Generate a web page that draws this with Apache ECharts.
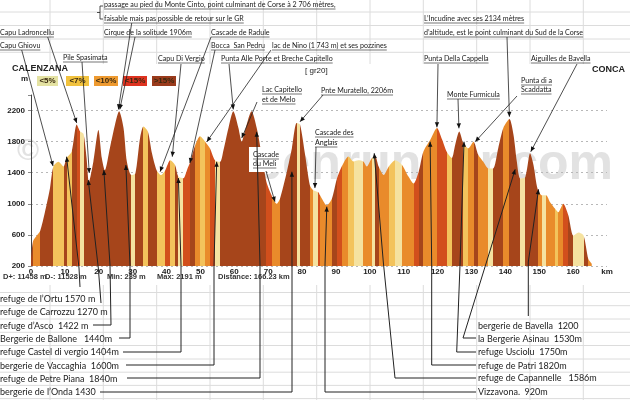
<!DOCTYPE html>
<html><head><meta charset="utf-8">
<script src="https://cdn.jsdelivr.net/npm/echarts@6/dist/echarts.min.js"></script>
<style>html,body{margin:0;padding:0;background:#fff}#c{width:630px;height:400px}</style>
</head><body><div id="c"></div>
<script>
// ---------- DATA ----------
const kmValues = [0,0.6,1.5,2.7,4.1,5.6,6.6,8.1,9.6,10.5,12.0,13.5,14.5,15.5,16.4,17.1,18.4,19.9,20.9,21.8,23.3,24.8,26.0,27.3,28.3,29.6,30.8,32.2,33.2,34.5,35.7,37.1,38.4,39.6,41.1,42.5,43.5,45.0,46.0,47.0,48.5,49.9,51.4,52.8,54.3,55.8,56.8,58.3,59.7,61.2,62.2,63.1,65.1,66.6,68.1,69.5,71.0,72.5,73.5,75.5,77.0,78.4,79.4,80.9,82.3,83.3,84.8,85.3,87.3,88.8,90.3,91.7,93.7,95.2,96.6,98.1,99.1,100.6,101.6,102.6,104.1,105.6,107.5,109.5,111.4,112.9,114.4,115.8,117.8,119.8,121.3,122.7,124.2,125.2,126.4,127.6,129.1,130.6,132.0,133.5,135.0,136.4,137.9,139.4,141.2,142.4,143.4,144.4,145.9,147.3,148.3,149.5,150.8,152.0,153.2,154.7,155.6,157.1,158.6,160.1,161.6,163.1,164.5,165.5];
const elevValues = [300,520,580,650,890,1200,1480,1540,1480,1590,1670,2020,1930,1900,1590,1280,1540,1950,1590,1430,1720,2020,2190,1980,1540,1370,1390,1850,1995,1930,1650,1430,1370,1430,1560,1500,1350,1330,1430,1540,1760,1870,1800,1715,1560,1540,1690,1980,2190,1980,1800,1930,2190,1980,1630,1280,1110,1000,1070,1410,1715,2040,2020,1630,1240,1175,1150,1110,980,1065,1325,1480,1610,1545,1560,1545,1480,1590,1610,1480,1370,1480,1560,1500,1350,1260,1410,1670,1820,1975,1830,1670,1590,1760,1930,1780,1715,1800,1630,1540,1455,1455,1715,1975,2090,1890,1540,1325,1345,1650,1500,1195,1110,1110,1020,935,890,1000,850,590,630,590,290,230];
const slopeLabels = ['<5%','<7%','<10%','<15%','>15%'];
const slopeLimits = [5,7,10,15];
const statsTexts = ['D+: 11458 m','D-: 11528 m','Min: 239 m','Max: 2191 m','Distance: 166.23 km'];
const startName = 'CALENZANA', endName = 'CONCA', routeName = '[ gr20]';
const watermark = ['\u00a9', 'openrunner.com'];

const noteLines = [
 ['passage au pied du Monte Cinto, point culminant de Corse \u00e0 2 706 m\u00e8tres,', 'faisable mais pas possible de retour sur le GR'],
 ['Capu Ladroncellu'],
 ['Capu Ghiovu'],
 ['Pile Spasimata'],
 ['Cirque de la solitude 1906m'],
 ['Cascade de Radule'],
 ['Bocca  San Pedru'],
 ['lac de Nino (1 743 m) et ses pozzines'],
 ['Capu Di Vergio'],
 ['Punta Alle Porte et Breche Capitello'],
 ['Lac Capitello','et de Melo'],
 ['Pnte Muratello, 2206m'],
 ['Cascade des','Anglais'],
 ['Cascade','du Meli'],
 ['L\u2019Incudine avec ses 2134 m\u00e8tres','d\u2019altitude, est le point culminant du Sud de la Corse'],
 ['Punta Della Cappella'],
 ['Monte Furmicula'],
 ['Punta di a','Scaddatta'],
 ['Aiguilles de Bavella']
];
const noteKm   = [25.8,13.5,6.5,17.2,26.2,38.1,46.9,51.9,41.7,59.7,62.2,79.4,83.8,72.0,141.2,119.8,126.3,131.1,147.5];
const noteElev = [2215,2039,1486,1396,2215,1413,1525,1799,1606,2215,1846,2056,1203,1027,2120,1984,1971,1799,1670];

const stopNames = ['refuge de l\u2019Ortu 1570 m','refuge de Carrozzu 1270 m','refuge d\u2019Asco  1422 m','Bergerie de Ballone   1440m','refuge Castel di vergio 1404m','bergerie de Vaccaghia  1600m','refuge de Petre Piana  1840m','bergerie de l\u2019Onda 1430','bergerie de Bavella  1200','la Bergerie Asinau  1530m','refuge Usciolu  1750m','refuge de Patri 1820m','refuge de Capannelle   1586m','Vizzavona.  920m'];
const stopKm   = [10.5,16.9,21.5,28.0,43.5,54.8,66.6,77.0,149.8,142.9,127.8,117.8,101.3,87.3];
const stopElev = [1606,1306,1435,1499,1332,1541,1927,1413,1186,1444,1799,1799,1650,963];

// ---------- STYLE / LAYOUT ----------
const classColors  = ['#f5e2a0','#f3c35c','#e98b2b','#d24f1c','#a6451b'];
const legendColors = ['#e4e2a2','#f1c23e','#ee9a30','#de3320','#9a3b1c'];
const slopeSampling = 1.25; // coarse sampling underestimates local gradients
const legendX = [37,66,94,123,152], legendW = [21,23,24,24,24];
const statsX = [3,45,107,157,218];
const noteLayout = [
 [104,5,14,131.7,23],[0,33,0,47.7,37],[0,46,0,21.7,50],[63,58,0,82,62],[104,33,0,135,37],
 [211,33,0,211,37],[211,46,0,215,50],[272,46,0,271,50],[158,59,0,181,64],[221,59,0,229,64],
 [262,90,10,257,102],[321,91,0,323,95],[315,133,10,316,147],[253,155,9,266,171],
 [424,19,14,507,37],[424,59,0,438,64],[447,95,0,458,99],[521,81,9,517,96],[531,59,0,577,64]
];
const stopLayout = [
 [0,299,[[79,268],[80,287]]],
 [0,312,[[98.3,268],[101,303]]],
 [0,326,[[110,265],[111,325],[93,325]]],
 [0,339,[[130,265],[130,338],[119,338]]],
 [0,352,[[181,265],[181,352],[123,352]]],
 [0,366,[[214,265],[214,365],[126,365]]],
 [0,379,[[260,265],[260,378],[127,378]]],
 [0,392,[[292,265],[292,392],[100,392]]],
 [478,326,[[528.3,262],[528.3,316]]],
 [478,339.5,[[463,338],[476,338]]],
 [478,352,[[460,265],[456.7,352],[476,352]]],
 [478,366,[[431.7,265],[431.7,365],[476,365]]],
 [478,378.5,[[383.3,262],[395,378],[476,378]]],
 [478,392,[[325,265],[325,392],[476,392]]]
];
const rowLinesTop = [12,25.5,39,52.3];
const rowLinesBottom = [292.5,305.7,319,332.3,345.5,359,372.2,385.4,398.6];
const colLines = [50,103.3,156.7,210,263.3,316.7,370,423.3,476.7,530,583.3];

// ---------- BUILD ----------
const chart = echarts.init(document.getElementById('c'));
const data = kmValues.map((k,i)=>[k, elevValues[i]]);
function slopeClass(i){
  const g = slopeSampling*Math.abs(elevValues[i+1]-elevValues[i])/((kmValues[i+1]-kmValues[i])*1000)*100;
  let c=0; while(c<slopeLimits.length && g>=slopeLimits[c]) c++; return c;
}
const pieces = [];
for (let i=0;i<kmValues.length-1;i++){
  const p = {gte:kmValues[i], color:classColors[slopeClass(i)]};
  if (i<kmValues.length-2) p.lt = kmValues[i+1]; else p.lte = kmValues[i+1];
  pieces.push(p);
}
const gridColor = '#b8b8b8';
chart.setOption({
  animation:false,
  grid:{left:31,right:23,top:95,bottom:134},
  xAxis:{type:'value',min:0,max:170,interval:10,
    axisLine:{show:false},axisTick:{show:false},splitLine:{show:false},
    axisLabel:{margin:2,fontSize:8,fontWeight:'bold',color:'#222',fontFamily:'Liberation Sans',
      formatter:v=>v===170?'km':String(v)}},
  yAxis:{type:'value',min:200,max:2400,interval:400,
    axisLine:{show:true,lineStyle:{color:'#444',width:1}},
    axisTick:{show:true,length:3,lineStyle:{color:'#888'}},
    axisLabel:{margin:6,fontSize:8,fontWeight:'bold',color:'#222',fontFamily:'Liberation Sans',
      formatter:v=>v===2400?'':String(v)},
    splitLine:{show:true,lineStyle:{type:[2,3],width:1,
      color:[gridColor,gridColor,gridColor,gridColor,gridColor,gridColor,'rgba(0,0,0,0)']}}},
  visualMap:{show:false,type:'piecewise',dimension:0,seriesIndex:0,pieces:pieces},
  series:[{type:'line',data:data,smooth:0.25,symbol:'none',z:3,
    lineStyle:{width:0,opacity:0},areaStyle:{opacity:1}}]
});

const mctx = document.createElement('canvas').getContext('2d');
function tw(text, font){ mctx.font = font; return mctx.measureText(text).width; }
const px = (k,e)=>chart.convertToPixel({xAxisIndex:0,yAxisIndex:0},[k,e]);

const g = [];
rowLinesTop.concat(rowLinesBottom).forEach(y=>g.push({type:'line',z:-20,shape:{x1:0,y1:y,x2:630,y2:y},style:{stroke:'#dcdcdc',lineWidth:1}}));
colLines.forEach(x=>g.push({type:'line',z:-20,shape:{x1:x,y1:0,x2:x,y2:400},style:{stroke:'#dcdcdc',lineWidth:1}}));
g.push({type:'rect',z:-15,shape:{x:0,y:64,width:630,height:221},style:{fill:'#fff'}});
g.push({type:'text',z:-10,x:17,y:152,style:{text:watermark[0],font:'bold 30px Liberation Sans',fill:'#e2e2e2',verticalAlign:'middle'}});
g.push({type:'text',z:-10,x:613,y:165,style:{text:watermark[1],font:'bold 50px Liberation Sans',fill:'#e2e2e2',align:'right',verticalAlign:'middle'}});

g.push({type:'text',z:50,x:12,y:69,style:{text:startName,font:'bold 9px Liberation Sans',fill:'#222',verticalAlign:'middle'}});
g.push({type:'text',z:50,x:592,y:70,style:{text:endName,font:'bold 9px Liberation Sans',fill:'#222',verticalAlign:'middle'}});
g.push({type:'text',z:50,x:305,y:71,style:{text:routeName,font:'8px Liberation Sans',fill:'#222',verticalAlign:'middle'}});
g.push({type:'text',z:50,x:21,y:79,style:{text:'m',font:'bold 8px Liberation Sans',fill:'#222',verticalAlign:'middle'}});
slopeLabels.forEach((t,i)=>{
  g.push({type:'rect',z:50,shape:{x:legendX[i],y:76,width:legendW[i],height:10},style:{fill:legendColors[i]}});
  g.push({type:'text',z:51,x:legendX[i]+legendW[i]/2,y:81,style:{text:t,font:'bold 8px Liberation Sans',fill:'#3a2a10',align:'center',verticalAlign:'middle'}});
});
statsTexts.forEach((t,i)=>g.push({type:'text',z:50,x:statsX[i],y:277,style:{text:t,font:'bold 7.5px Liberation Sans',fill:'#333',verticalAlign:'middle'}}));

function arrowHead(from, to, color){
  const dx = to[0]-from[0], dy = to[1]-from[1], L = Math.hypot(dx,dy)||1;
  const ux=dx/L, uy=dy/L, len=5, hw=2.2;
  const bx=to[0]-ux*len, by=to[1]-uy*len;
  return {type:'polygon',z:60,shape:{points:[to,[bx-uy*hw,by+ux*hw],[bx+uy*hw,by-ux*hw]]},style:{fill:color}};
}
const noteFont = '7.1px Lato';
noteLines.forEach((lines,i)=>{
  const L = noteLayout[i];
  if (i===13){ g.push({type:'rect',z:55,shape:{x:249,y:147,width:34,height:25},style:{fill:'#fff'}}); }
  lines.forEach((t,j)=>{
    const y = L[1]+j*L[2];
    g.push({type:'text',z:56,x:L[0],y:y,style:{text:t,font:noteFont,fill:'#1a1a1a',verticalAlign:'middle'}});
    const w = tw(t,noteFont);
    g.push({type:'line',z:56,shape:{x1:L[0],y1:y+4,x2:L[0]+w,y2:y+4},style:{stroke:'#1a1a1a',lineWidth:0.6}});
  });
  const tgt = px(noteKm[i],noteElev[i]);
  const st = [L[3],L[4]];
  g.push({type:'line',z:58,shape:{x1:st[0],y1:st[1],x2:tgt[0],y2:tgt[1]},style:{stroke:'#222',lineWidth:0.8}});
  g.push(arrowHead(st,tgt,'#111'));
});
g.push({type:'polyline',z:56,shape:{points:[[103,6],[100,6],[100,19],[103,19]]},style:{stroke:'#222',lineWidth:0.8,fill:null}});
g.push({type:'line',z:56,shape:{x1:97,y1:12.5,x2:100,y2:12.5},style:{stroke:'#222',lineWidth:0.8}});

const stopFont = '9px Lato';
stopNames.forEach((t,i)=>{
  const L = stopLayout[i];
  g.push({type:'text',z:56,x:L[0],y:L[1],style:{text:t,font:stopFont,fill:'#222',verticalAlign:'middle'}});
  const tgt = px(stopKm[i],stopElev[i]);
  const pts = [tgt].concat(L[2]);
  g.push({type:'polyline',z:58,shape:{points:pts},style:{stroke:'#222',lineWidth:1,fill:null}});
  g.push(arrowHead(L[2][0],tgt,'#111'));
});
chart.setOption({graphic:{elements:g}});
</script></body></html>
